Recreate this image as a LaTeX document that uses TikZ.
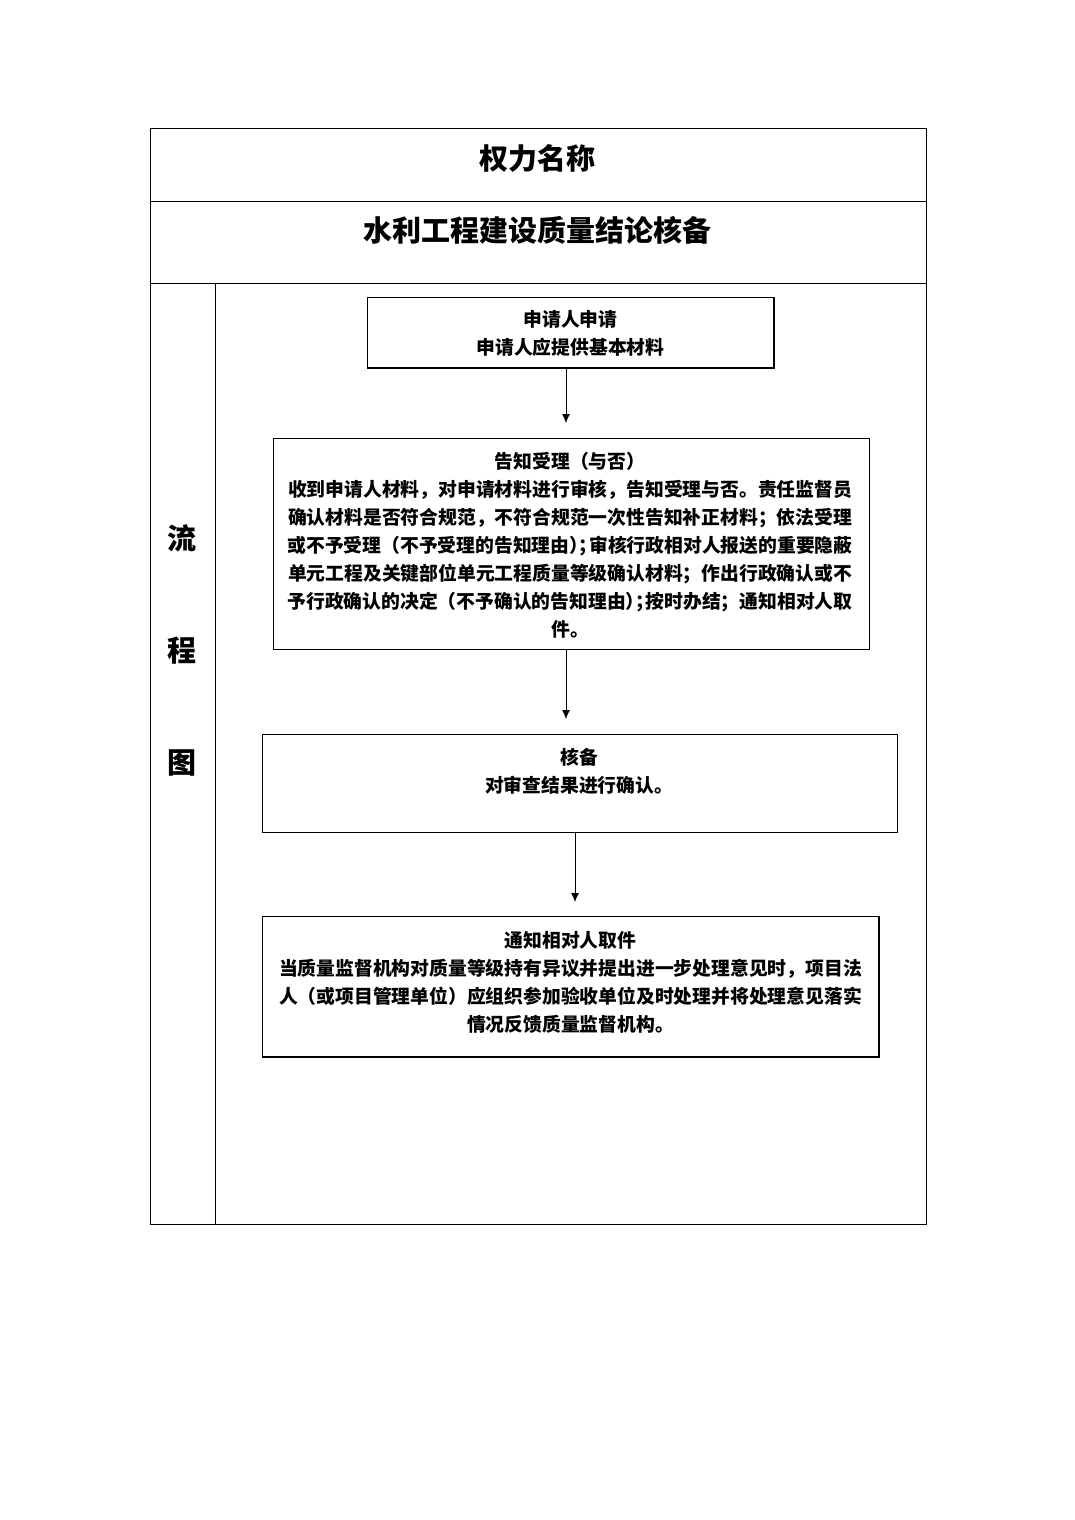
\documentclass[tikz,border=0pt]{standalone}
\usepackage{fontspec}
\newfontfamily\cjk{Noto Sans CJK SC}
\usetikzlibrary{arrows.meta}
\begin{document}
\begin{tikzpicture}[x=1pt,y=-1pt,
  frame/.style={draw=black,line width=0.9pt},
  box/.style={draw=black,line width=0.9pt,inner sep=0pt},
  shade/.style={line width=2pt},
  txt/.style={font=\cjk\bfseries\fontsize{18.8}{28}\selectfont,align=center,inner sep=0pt},
  big/.style={font=\cjk\bfseries\fontsize{29}{34}\selectfont,inner sep=0pt},
  arr/.style={line width=0.9pt,-{Latex[length=9pt,width=8pt]}}]
\useasboundingbox (0,0) rectangle (1075,1520);
% table
\draw[frame] (150,128) rectangle (926,1224);
\draw[frame] (150,201) -- (926,201);
\draw[frame] (150,283) -- (926,283);
\draw[frame] (215,283) -- (215,1224);
\node[big] (title) at (537,158) {权力名称};
\node[big] (name) at (537,230) {水利工程建设质量结论核备};
\node[big] (c1) at (182,538) {流};
\node[big] (c2) at (182,651) {程};
\node[big] (c3) at (182,763) {图};
% box 1
\node[box,minimum width=407pt,minimum height=71pt] (b1) at (570.5,332.5) {};
\draw[shade] (367,368) -- (774,368) -- (774,297);
\node[txt] (t1) at (570.5,333) {申请人申请\\申请人应提供基本材料};
% box 2
\node[box,minimum width=596pt,minimum height=211pt] (b2) at (571,543.5) {};
\node[txt] (t2) at (570,545.5) {告知受理（与否）\\
收到申请人材料，对申请材料进行审核，告知受理与否。责任监督员\\
确认材料是否符合规范，不符合规范一次性告知补正材料；依法受理\\
或不予受理（不予受理的告知理由）\kern-0.5em；\kern-0.45em审核行政相对人报送的重要隐蔽\\
单元工程及关键部位单元工程质量等级确认材料；作出行政确认或不\\
予行政确认的决定（不予确认的告知理由）\kern-0.5em；\kern-0.45em按时办结；通知相对人取\\
件。};
% box 3
\node[box,minimum width=635pt,minimum height=98pt] (b3) at (579.5,783) {};
\node[txt] (t3) at (579,771) {核备\\对审查结果进行确认。};
% box 4
\node[box,minimum width=617pt,minimum height=141pt] (b4) at (570.5,986.5) {};
\draw[shade] (262,1057) -- (879,1057) -- (879,916);
\node[txt] (t4) at (570.5,982) {通知相对人取件\\
当质量监督机构对质量等级持有异议并提出进一步处理意见时，项目法\\
人（或项目管理单位）应组织参加验收单位及时处理并将处理意见落实\\
情况反馈质量监督机构。};
% arrows
\coordinate (e1) at (566,423);
\coordinate (e2) at (566,719);
\coordinate (e3) at (575,902);
\draw[arr] (b1.south -| e1) -- (e1);
\draw[arr] (b2.south -| e2) -- (e2);
\draw[arr] (b3.south -| e3) -- (e3);
\end{tikzpicture}
\end{document}
